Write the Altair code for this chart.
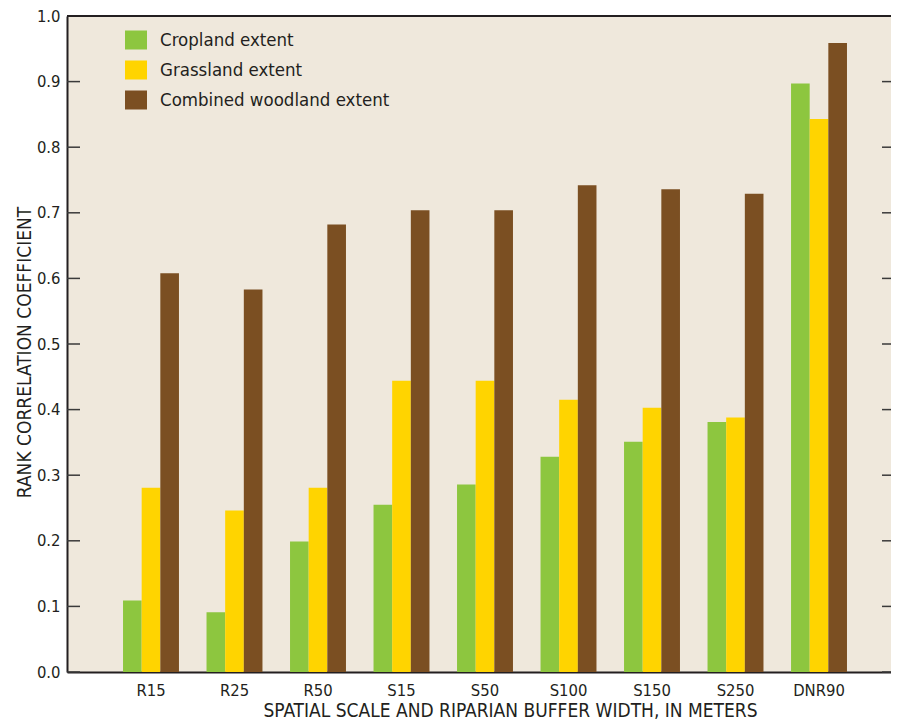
import altair as alt
import pandas as pd

categories = ["R15", "R25", "R50", "S15", "S50", "S100", "S150", "S250", "DNR90"]
series = ["Cropland extent", "Grassland extent", "Combined woodland extent"]
cropland = [0.109, 0.091, 0.199, 0.255, 0.286, 0.328, 0.351, 0.381, 0.897]
grassland = [0.281, 0.246, 0.281, 0.444, 0.444, 0.415, 0.403, 0.388, 0.843]
woodland = [0.608, 0.583, 0.682, 0.704, 0.704, 0.742, 0.736, 0.729, 0.959]
colors = ["#8dc63f", "#ffd400", "#7b4f22"]
y_ticks = [0.0, 0.1, 0.2, 0.3, 0.4, 0.5, 0.6, 0.7, 0.8, 0.9, 1.0]

rows = []
for s, vals in zip(series, [cropland, grassland, woodland]):
    for c, v in zip(categories, vals):
        rows.append({"category": c, "series": s, "value": v})
df = pd.DataFrame(rows)
ticks_df = pd.DataFrame({"value": y_ticks})
top_df = pd.DataFrame({"value": [1.0]})

FONT = "Liberation Sans Narrow, Arial Narrow, DejaVu Sans Condensed, sans-serif"
INK = "#231f20"
W, H = 824, 656

bars = alt.Chart(df).mark_bar().encode(
    x=alt.X(
        "category:N",
        sort=categories,
        scale=alt.Scale(paddingInner=0.33, paddingOuter=0.599, align=0.56),
        axis=alt.Axis(
            title="SPATIAL SCALE AND RIPARIAN BUFFER WIDTH, IN METERS",
            labelAngle=0,
            ticks=False,
            tickSize=0,
            labelPadding=23,
            labelBaseline="alphabetic",
            titleX=443,
            titleY=44,
            titleAlign="center",
            titleBaseline="alphabetic",
        ),
    ),
    xOffset=alt.XOffset("series:N", sort=series, scale=alt.Scale(paddingInner=0, paddingOuter=0)),
    y=alt.Y(
        "value:Q",
        scale=alt.Scale(domain=[0, 1], nice=False),
        axis=alt.Axis(
            values=y_ticks,
            format=".1f",
            title="RANK CORRELATION COEFFICIENT",
            ticks=False,
            tickSize=0,
            labelPadding=7,
            titleX=-37,
            titleY=H / 2 + 8,
            titleAlign="center",
            titleBaseline="alphabetic",
            titleAngle=270,
        ),
    ),
    color=alt.Color(
        "series:N",
        sort=series,
        scale=alt.Scale(domain=series, range=colors),
        legend=alt.Legend(
            title=None,
            orient="none",
            legendX=59,
            legendY=14,
            padding=0,
            symbolType="M-1.1,-0.95H1.1V0.95H-1.1Z",
            symbolSize=400,
            symbolStrokeWidth=0,
            symbolOpacity=1,
            rowPadding=10,
            labelOffset=14,
            labelLimit=400,
        ),
    ),
)

left_ticks = alt.Chart(ticks_df).mark_rule(color="#3a3a3a", strokeWidth=1.5).encode(
    y="value:Q", x=alt.value(0), x2=alt.value(13)
)
right_ticks = alt.Chart(ticks_df).mark_rule(color="#3a3a3a", strokeWidth=1.5).encode(
    y="value:Q", x=alt.value(W - 9), x2=alt.value(W)
)
top_border = alt.Chart(top_df).mark_rule(color=INK, strokeWidth=2).encode(
    y="value:Q", x=alt.value(0), x2=alt.value(W)
)

chart = (
    alt.layer(bars, left_ticks, right_ticks, top_border)
    .properties(
        width=W,
        height=H,
        autosize=alt.AutoSizeParams(type="none"),
        padding={"left": 59, "top": 8, "right": 0, "bottom": 52},
        background="white",
    )
    .configure_view(fill="#efe8dc", stroke="transparent")
    .configure_axis(
        labelFont=FONT,
        titleFont=FONT,
        labelFontSize=16.5,
        titleFontSize=19,
        labelColor=INK,
        titleColor=INK,
        titleFontWeight="normal",
        domainColor=INK,
        domainWidth=2,
        grid=False,
    )
    .configure_legend(labelFont=FONT, labelFontSize=18.5, labelColor=INK)
)

chart.save("out.html", embed_options={"renderer": "svg", "actions": False})
